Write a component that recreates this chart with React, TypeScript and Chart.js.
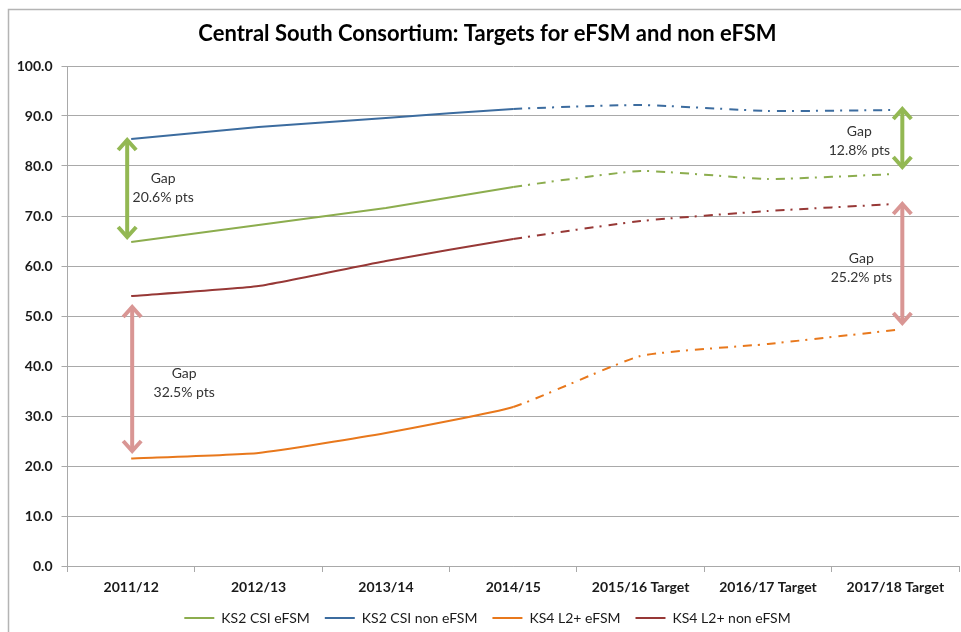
import React, { useEffect, useRef } from 'react';
import { Chart, registerables } from 'chart.js';

Chart.register(...registerables);

// ---- data ----
const categories = ['2011/12', '2012/13', '2013/14', '2014/15', '2015/16 Target', '2016/17 Target', '2017/18 Target'];
const ks2CsiEfsm = [64.8, 68.2, 71.6, 75.8, 79.0, 77.4, 78.4];
const ks2CsiNonEfsm = [85.4, 87.8, 89.6, 91.4, 92.2, 91.0, 91.2];
const ks4L2Efsm = [21.5, 22.6, 26.6, 31.8, 42.0, 44.4, 47.2];
const ks4L2NonEfsm = [54.0, 56.0, 61.0, 65.4, 69.0, 71.0, 72.4];
const seriesNames = ['KS2 CSI eFSM', 'KS2 CSI non eFSM', 'KS4 L2+ eFSM', 'KS4 L2+ non eFSM'];
const lastActualIndex = 3;

// gap annotations (values)
const gapCategory = [0, 0, 6, 6];
const gapFrom = [85.6, 52.2, 91.8, 72.8];
const gapTo = [65.4, 22.6, 79.4, 48.2];
const gapLabels = ['20.6% pts', '32.5% pts', '12.8% pts', '25.2% pts'];

// ---- styles ----
const COLORS = {
  green: '#8cad4e',
  blue: '#3c6c9f',
  orange: '#e8781c',
  red: '#973836',
  arrowGreen: '#93b853',
  arrowPink: '#d99694',
  grid: '#a9a9a9',
  text: '#1a1a1a',
};
const gapColors = [COLORS.arrowGreen, COLORS.arrowPink, COLORS.arrowGreen, COLORS.arrowPink];
const gapStyle = [
  { dx: -4, tx: 36, ty: -1 },
  { dx: 1, tx: 52, ty: 4 },
  { dx: 7, tx: -43, ty: 2.5 },
  { dx: 7, tx: -41, ty: 4 },
];
const FONT = 'Lato, "Open Sans", sans-serif';
const DASH = [9, 6, 2, 7];

const framePlugin = {
  id: 'frame',
  beforeDraw(chart: any) {
    const { ctx, width, height } = chart;
    ctx.save();
    ctx.fillStyle = '#ffffff';
    ctx.fillRect(0, 0, width, height);
    ctx.strokeStyle = '#b4b4b4';
    ctx.lineWidth = 1.5;
    ctx.strokeRect(8.5, 9.5, width + 20, height + 20);
    ctx.restore();
  },
};

const gapPlugin = {
  id: 'gaps',
  afterDatasetsDraw(chart: any) {
    const { ctx } = chart;
    const xs = chart.scales.x;
    const ys = chart.scales.y;
    ctx.save();
    for (let i = 0; i < gapCategory.length; i++) {
      const st = gapStyle[i];
      const x = xs.getPixelForValue(gapCategory[i]) + st.dx;
      const y1 = ys.getPixelForValue(gapFrom[i]);
      const y2 = ys.getPixelForValue(gapTo[i]);
      ctx.strokeStyle = gapColors[i];
      ctx.lineWidth = 4;
      ctx.lineCap = 'butt';
      ctx.lineJoin = 'miter';
      ctx.beginPath();
      ctx.moveTo(x, y1 + 2);
      ctx.lineTo(x, y2 - 2);
      ctx.stroke();
      ctx.beginPath();
      ctx.moveTo(x - 9, y1 + 12);
      ctx.lineTo(x, y1 + 2);
      ctx.lineTo(x + 9, y1 + 12);
      ctx.stroke();
      ctx.beginPath();
      ctx.moveTo(x - 9, y2 - 12);
      ctx.lineTo(x, y2 - 2);
      ctx.lineTo(x + 9, y2 - 12);
      ctx.stroke();

      const tx = x + st.tx;
      const ty = (y1 + y2) / 2 + st.ty;
      ctx.fillStyle = '#333333';
      ctx.font = '14px ' + FONT;
      ctx.textAlign = 'center';
      ctx.textBaseline = 'middle';
      ctx.fillText('Gap', tx, ty - 9.5);
      ctx.fillText(gapLabels[i], tx, ty + 9.5);
    }
    ctx.restore();
  },
};

function makeDataset(label: string, data: number[], color: string) {
  return {
    label,
    data,
    borderColor: color,
    backgroundColor: color,
    borderWidth: 2,
    pointRadius: 0,
    pointHoverRadius: 0,
    tension: 0.15,
    fill: false,
    segment: {
      borderDash: (ctx: any) => (ctx.p0DataIndex >= lastActualIndex ? DASH : undefined),
    },
  };
}

export default function App() {
  const ref = useRef<HTMLCanvasElement | null>(null);

  useEffect(() => {
    if (!ref.current) return;
    const chart = new Chart(ref.current, {
      type: 'line',
      data: {
        labels: categories,
        datasets: [
          makeDataset(seriesNames[0], ks2CsiEfsm, COLORS.green),
          makeDataset(seriesNames[1], ks2CsiNonEfsm, COLORS.blue),
          makeDataset(seriesNames[2], ks4L2Efsm, COLORS.orange),
          makeDataset(seriesNames[3], ks4L2NonEfsm, COLORS.red),
        ],
      },
      options: {
        responsive: false,
        animation: false,
        devicePixelRatio: 1,
        layout: { padding: { left: 16, right: 2, top: 0, bottom: -3 } },
        plugins: {
          title: {
            display: true,
            text: 'Central South Consortium: Targets for eFSM and non eFSM',
            color: '#000000',
            font: { family: FONT, size: 22, weight: 'bold' },
            padding: { top: 20.8, bottom: 18.8 },
          },
          legend: {
            display: true,
            position: 'bottom',
            labels: {
              usePointStyle: true,
              pointStyle: 'line',
              pointStyleWidth: 30,
              padding: 15,
              color: COLORS.text,
              font: { family: FONT, size: 14 },
            },
          },
          tooltip: { enabled: false },
        },
        scales: {
          x: {
            type: 'category',
            offset: true,
            grid: {
              display: true,
              offset: true,
              drawOnChartArea: false,
              drawTicks: true,
              tickLength: 6,
              color: COLORS.grid,
            },
            border: { display: true, color: COLORS.grid },
            ticks: {
              color: COLORS.text,
              padding: 7,
              maxRotation: 0,
              autoSkip: false,
              font: { family: FONT, size: 14, weight: 'bold' },
            },
            afterFit(scale: any) {
              scale.height = 30;
            },
          },
          y: {
            min: 0,
            max: 100,
            ticks: {
              stepSize: 10,
              color: COLORS.text,
              padding: 9,
              font: { family: FONT, size: 14, weight: 'bold' },
              callback: (v: any) => Number(v).toFixed(1),
            },
            grid: { color: COLORS.grid, tickLength: 6, drawTicks: true },
            border: { display: true, color: COLORS.grid },
            afterFit(scale: any) {
              scale.width = 51.5;
            },
          },
        },
      },
      plugins: [framePlugin, gapPlugin],
    } as any);
    return () => chart.destroy();
  }, []);

  return (
    <div style={{ position: 'absolute', left: 0, top: 0, width: 961, height: 632 }}>
      <canvas ref={ref} width={961} height={632} style={{ width: 961, height: 632, display: 'block' }} />
    </div>
  );
}
